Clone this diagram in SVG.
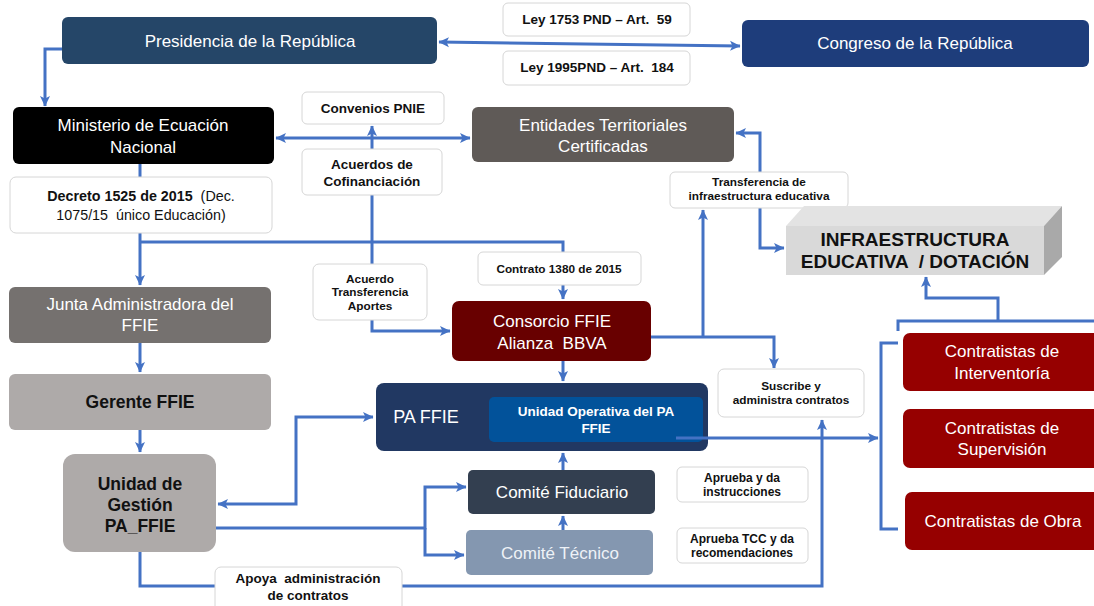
<svg xmlns="http://www.w3.org/2000/svg" width="1094" height="606" viewBox="0 0 1094 606">
<defs>
<marker id="ah" markerWidth="11" markerHeight="11" refX="10" refY="5.5" orient="auto-start-reverse" markerUnits="userSpaceOnUse"><path d="M0,0.5 L10.5,5.5 L0,10.5 L2.5,5.5 z" fill="#4472C4"/></marker>
</defs>
<style>
text{font-family:"Liberation Sans",Arial,sans-serif;text-anchor:middle;white-space:pre}
.w{fill:#fff;font-size:17px}
.k{fill:#111;font-weight:bold}
.s{font-size:11.8px}
.m{font-size:13.5px}
.lb{fill:#fff;stroke:#D6D6D6;stroke-width:1}
.c{fill:none;stroke:#4472C4;stroke-width:3;stroke-linejoin:miter}
.a{marker-end:url(#ah)}
.b{marker-start:url(#ah);marker-end:url(#ah)}
</style>
<rect width="1094" height="606" fill="#fff"/>
<g id="connectors">
<path class="c b" d="M439,42 L740,46"/>
<path class="c a" d="M62,49 H45 V106"/>
<path class="c b" d="M276,138 H470"/>
<path class="c a" d="M372,242 V126"/>
<path class="c a" d="M372,242 V331 H450"/>
<path class="c a" d="M140,164 V285"/>
<path class="c a" d="M140,242 H563 V299"/>
<path class="c a" d="M140,343 V372"/>
<path class="c a" d="M140,430 V452"/>
<path class="c b" d="M218,504 H296 V417 H373"/>
<path class="c a" d="M563,361 V381"/>
<path class="c a" d="M651,337 H774 V368"/>
<path class="c a" d="M703,337 V210"/>
<path class="c b" d="M736,133 H760 V248 H784"/>
<path class="c a" d="M898,331 V321 H1094 M998,321 V298 H926 V277"/>
<path class="c" d="M898,343 H881 V529 H898"/>
<path class="c a" d="M563,530 V516"/>
<path class="c a" d="M563,470 V453"/>
<path class="c a" d="M216,528 H425 V487 H466"/>
<path class="c a" d="M425,528 V555 H464"/>
<path class="c a" d="M140,552 V586 H822 V420"/>
</g>
<g id="presidencia"><rect x="62" y="17" width="375" height="47" rx="6" fill="#254668"/><text class="w" x="250" y="47">Presidencia de la República</text></g>
<g id="congreso"><rect x="742" y="20" width="347" height="47" rx="6" fill="#1E3D7B"/><text class="w" x="915" y="49">Congreso de la República</text></g>
<g id="ley1753"><rect class="lb" x="503" y="3" width="187" height="33" rx="5"/><text class="k m" x="597" y="24">Ley 1753 PND – Art.  59</text></g>
<g id="ley1995"><rect class="lb" x="503" y="51" width="187" height="34" rx="5"/><text class="k m" x="597" y="72">Ley 1995PND – Art.  184</text></g>
<g id="ministerio"><rect x="13" y="107" width="261" height="57" rx="6" fill="#000"/><text class="w" x="143" y="131">Ministerio de Ecuación</text><text class="w" x="143" y="153">Nacional</text></g>
<g id="decreto"><rect class="lb" x="10" y="177" width="262" height="56" rx="6"/><text x="141" y="201" font-size="14.3" fill="#111"><tspan font-weight="bold">Decreto 1525 de 2015</tspan>  (Dec.</text><text x="141" y="220" font-size="14.3" fill="#111">1075/15  único Educación)</text></g>
<g id="convenios"><rect class="lb" x="302" y="92" width="142" height="32" rx="5"/><text class="k m" x="373" y="113">Convenios PNIE</text></g>
<g id="acuerdos"><rect class="lb" x="302" y="149" width="140" height="46" rx="5"/><text class="k m" x="372" y="169">Acuerdos de</text><text class="k m" x="372" y="186">Cofinanciación</text></g>
<g id="entidades"><rect x="472" y="107" width="262" height="55" rx="6" fill="#5F5A57"/><text class="w" x="603" y="131">Entidades Territoriales</text><text class="w" x="603" y="152">Certificadas</text></g>
<g id="transferencia"><rect class="lb" x="670" y="172" width="178" height="36" rx="5"/><text class="k s" x="759" y="186">Transferencia de</text><text class="k s" x="759" y="200">infraestructura educativa</text></g>
<g id="infraestructura"><polygon points="786,226 804,206 1062,206 1044,226" fill="#E3E3E3"/><polygon points="1044,226 1062,206 1062,257 1044,275" fill="#A9A9A9"/><rect x="786" y="226" width="258" height="49" fill="#D9D9D9"/><text class="k" x="915" y="246" font-size="19">INFRAESTRUCTURA</text><text class="k" x="915" y="268" font-size="19">EDUCATIVA  / DOTACIÓN</text></g>
<g id="contrato"><rect class="lb" x="478" y="252" width="163" height="33" rx="5"/><text class="k s" x="559" y="273">Contrato 1380 de 2015</text></g>
<g id="acuerdo-transferencia"><rect class="lb" x="313" y="264" width="114" height="56" rx="6"/><text class="k s" x="370" y="283">Acuerdo</text><text class="k s" x="370" y="296">Transferencia</text><text class="k s" x="370" y="310">Aportes</text></g>
<g id="junta"><rect x="9" y="287" width="262" height="56" rx="6" fill="#75716F"/><text class="w" x="140" y="310">Junta Administradora del</text><text class="w" x="140" y="331">FFIE</text></g>
<g id="consorcio"><rect x="452" y="301" width="199" height="60" rx="7" fill="#680000"/><text class="w" x="552" y="327">Consorcio FFIE</text><text class="w" x="552" y="349">Alianza  BBVA</text></g>
<g id="gerente"><rect x="9" y="374" width="262" height="56" rx="6" fill="#AEAAA9"/><text class="k" x="140" y="408" font-size="17.5">Gerente FFIE</text></g>
<g id="pa-ffie"><rect x="376" y="383" width="332" height="68" rx="8" fill="#213862"/><text x="426" y="423" font-size="18" fill="#fff">PA FFIE</text><rect x="489" y="397" width="214" height="45" rx="5" fill="#02529A"/><text class="m" x="596" y="416" font-weight="bold" fill="#fff">Unidad Operativa del PA</text><text class="m" x="596" y="433" font-weight="bold" fill="#fff">FFIE</text></g>
<g id="suscribe"><rect class="lb" x="718" y="369" width="146" height="48" rx="6"/><text class="k s" x="791" y="390">Suscribe y</text><text class="k s" x="791" y="404">administra contratos</text></g>
<g id="unidad-gestion"><rect x="63" y="454" width="153" height="98" rx="12" fill="#AEAAA9"/><text class="k" x="140" y="490" font-size="17.5">Unidad de</text><text class="k" x="140" y="511" font-size="17.5">Gestión</text><text class="k" x="140" y="532" font-size="17.5">PA_FFIE</text></g>
<g id="comite-fiduciario"><rect x="468" y="470" width="187" height="44" rx="5" fill="#333F50"/><text class="w" x="562" y="498">Comité Fiduciario</text></g>
<g id="comite-tecnico"><rect x="466" y="530" width="187" height="45" rx="5" fill="#8497B0"/><text x="560" y="559" font-size="17" fill="#EEF2F7">Comité Técnico</text></g>
<g id="aprueba-instrucciones"><rect class="lb" x="677" y="467" width="131" height="35" rx="5"/><text class="k" x="742" y="482" font-size="12">Aprueba y da</text><text class="k" x="742" y="496" font-size="12">instrucciones</text></g>
<g id="aprueba-tcc"><rect class="lb" x="677" y="528" width="131" height="35" rx="5"/><text class="k" x="742" y="543" font-size="12">Aprueba TCC y da</text><text class="k" x="742" y="557" font-size="12">recomendaciones</text></g>
<g id="apoya"><rect class="lb" x="215" y="567" width="187" height="45" rx="6"/><text class="k m" x="308" y="583">Apoya  administración</text><text class="k m" x="308" y="600">de contratos</text></g>
<g id="interventoria"><rect x="903" y="333" width="200" height="58" rx="7" fill="#960000"/><text class="w" x="1002" y="357">Contratistas de</text><text class="w" x="1002" y="379">Interventoría</text></g>
<g id="supervision"><rect x="903" y="409" width="200" height="59" rx="7" fill="#960000"/><text class="w" x="1002" y="434">Contratistas de</text><text class="w" x="1002" y="455">Supervisión</text></g>
<g id="obra"><rect x="905" y="492" width="200" height="58" rx="7" fill="#960000"/><text class="w" x="1003" y="527">Contratistas de Obra</text></g>
<g id="connectors-top">
<path class="c a" d="M676,438 H878"/>
</g>
</svg>
